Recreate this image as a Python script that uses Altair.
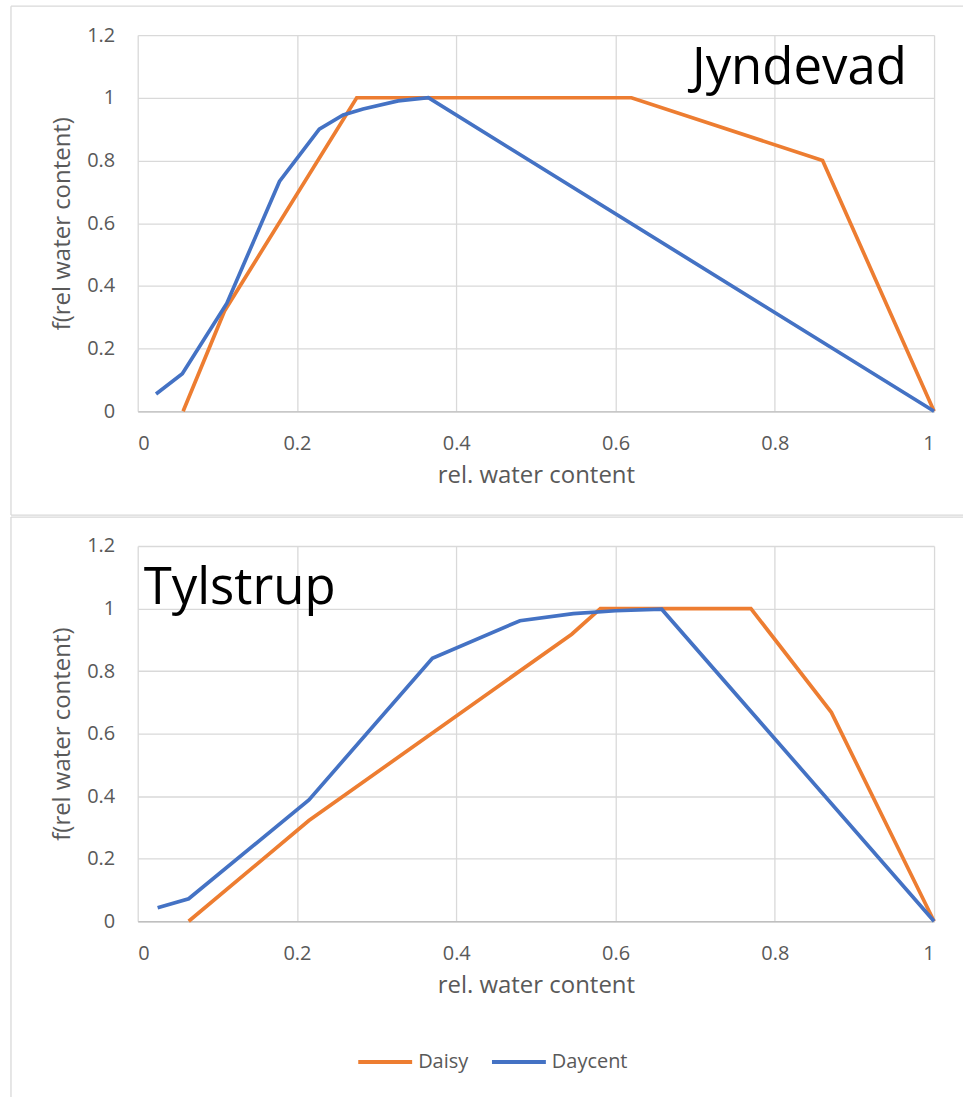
import altair as alt
import pandas as pd

# Jyndevad: relative water content vs. response function
jyn_daisy_x = [0.057, 0.109, 0.275, 0.620, 0.860, 1.000]
jyn_daisy_y = [0.000, 0.320, 1.000, 1.000, 0.800, 0.000]
jyn_daycent_x = [0.023, 0.056, 0.112, 0.178, 0.228, 0.258, 0.283, 0.327, 0.365, 1.000]
jyn_daycent_y = [0.055, 0.120, 0.345, 0.733, 0.900, 0.945, 0.964, 0.990, 1.000, 0.000]

# Tylstrup
tyl_daisy_x = [0.064, 0.215, 0.545, 0.581, 0.770, 0.871, 1.000]
tyl_daisy_y = [0.000, 0.322, 0.918, 1.000, 1.000, 0.668, 0.000]
tyl_daycent_x = [0.025, 0.064, 0.215, 0.370, 0.480, 0.547, 0.600, 0.658, 1.000]
tyl_daycent_y = [0.043, 0.072, 0.388, 0.841, 0.961, 0.984, 0.993, 0.998, 0.000]

models = ["Daisy", "Daycent"]
colors = ["#ED7D31", "#4472C4"]
x_ticks = [0, 0.2, 0.4, 0.6, 0.8, 1]
y_ticks = [0, 0.2, 0.4, 0.6, 0.8, 1, 1.2]

FONT = "Open Sans"
GRID = "#d9d9d9"
PLOT_W = 798


def curves(dx, dy, cx, cy):
    rows = [{"x": a, "y": b, "model": "Daisy"} for a, b in zip(dx, dy)]
    rows += [{"x": a, "y": b, "model": "Daycent"} for a, b in zip(cx, cy)]
    return pd.DataFrame(rows)


def frame(plot_h, top_gap, bottom_gap, draw_bottom):
    """Light grey chart-area border drawn around a panel."""
    one = pd.DataFrame({"k": [0]})
    left, right = -127, PLOT_W + 29
    layers = [
        alt.Chart(one).mark_rule(color=GRID, strokeWidth=1.3).encode(
            x=alt.value(left), x2=alt.value(right), y=alt.value(-top_gap)),
        alt.Chart(one).mark_rule(color=GRID, strokeWidth=1.3).encode(
            x=alt.value(left), y=alt.value(-top_gap), y2=alt.value(plot_h + bottom_gap)),
    ]
    if draw_bottom:
        layers.append(
            alt.Chart(one).mark_rule(color=GRID, strokeWidth=1.3).encode(
                x=alt.value(left), x2=alt.value(right), y=alt.value(plot_h + bottom_gap)))
    return layers


def panel(df, name, name_x, name_y, plot_h, bottom_gap, draw_bottom):
    lines = alt.Chart(df).mark_line(strokeWidth=3.7, clip=False).encode(
        x=alt.X("x:Q", scale=alt.Scale(domain=[0, 1], nice=False),
                axis=alt.Axis(values=x_ticks, format="~g", title="rel. water content")),
        y=alt.Y("y:Q", scale=alt.Scale(domain=[0, 1.2], nice=False),
                axis=alt.Axis(values=y_ticks, format="~g", title="f(rel water content)")),
        color=alt.Color("model:N", scale=alt.Scale(domain=models, range=colors),
                        legend=alt.Legend(title=None, orient="none", direction="horizontal",
                                          legendX=219, legendY=1000)),
    )
    label = alt.Chart(pd.DataFrame({"x": [name_x], "y": [name_y], "t": [name]})).mark_text(
        font=FONT, fontSize=51, color="#000000", align="left", baseline="alphabetic"
    ).encode(x="x:Q", y="y:Q", text="t:N")
    return alt.layer(*frame(plot_h, 29, bottom_gap, draw_bottom), lines, label).properties(
        width=PLOT_W, height=plot_h)


top = panel(curves(jyn_daisy_x, jyn_daisy_y, jyn_daycent_x, jyn_daycent_y),
            "Jyndevad", 0.696, 1.045, 377, 104, True)
bottom = panel(curves(tyl_daisy_x, tyl_daisy_y, tyl_daycent_x, tyl_daycent_y),
               "Tylstrup", 0.0075, 1.013, 376, 178, False)

chart = alt.vconcat(top, bottom, spacing=0).properties(
    padding={"left": 10, "top": 4, "right": 0, "bottom": 0}
).configure_view(stroke=None).configure_axis(
    labelFont=FONT, labelFontSize=20, labelColor="#595959",
    titleFont=FONT, titleFontSize=24, titleColor="#595959", titleFontWeight="normal",
    grid=True, gridColor=GRID, gridWidth=1.3, ticks=False,
).configure_axisX(
    domainColor="#bfbfbf", domainWidth=1.3, labelPadding=22, titlePadding=10,
).configure_axisY(
    domain=False, labelPadding=23, titlePadding=12,
).configure_legend(
    labelFont=FONT, labelFontSize=20, labelColor="#595959", labelOffset=4,
    symbolType="stroke", symbolSize=2916, symbolStrokeWidth=4, columnPadding=15,
)

chart.save("out.html", embed_options={"renderer": "svg", "actions": False})
